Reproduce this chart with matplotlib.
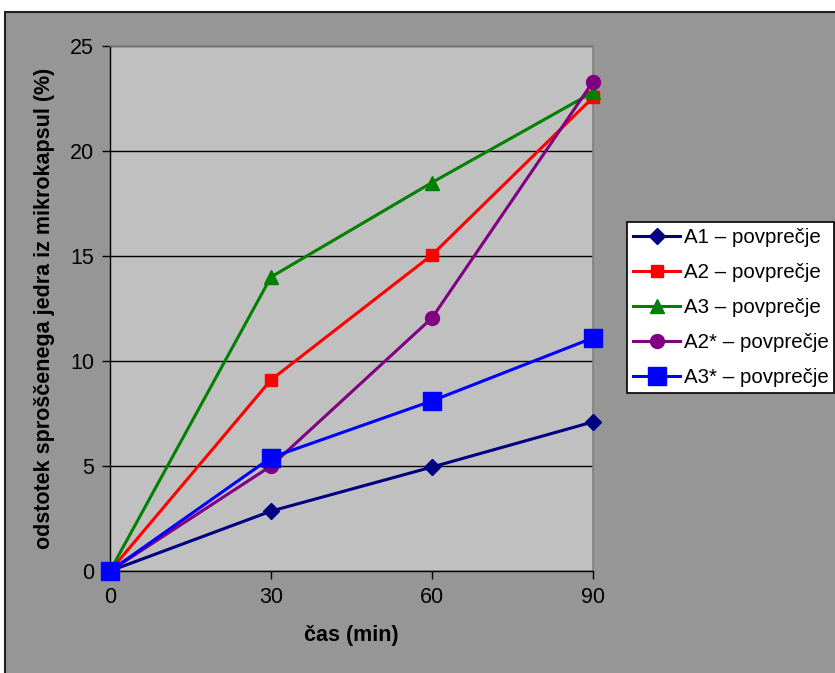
import matplotlib.pyplot as plt
from matplotlib.patches import Rectangle

plt.rcParams['font.family'] = ['Liberation Sans', 'DejaVu Sans']

# release time points (min)
cas = [0, 30, 60, 90]

# average released core fraction (%) per sample
a1 = [0, 2.85, 4.95, 7.1]
a2 = [0, 9.1, 15.05, 22.55]
a3 = [0, 14.0, 18.5, 22.8]
a2z = [0, 5.0, 12.05, 23.3]
a3z = [0, 5.4, 8.1, 11.1]

labels = ['A1 – povprečje', 'A2 – povprečje', 'A3 – povprečje',
          'A2* – povprečje', 'A3* – povprečje']

fig = plt.figure(figsize=(8.35, 6.73), dpi=100)
fig.patch.set_facecolor('white')

# gray chart area with dark frame
frame = Rectangle((5 / 835, -0.01), 1.0, (673 - 12) / 673 + 0.01,
                  transform=fig.transFigure, facecolor='#969696',
                  edgecolor='#202020', linewidth=1.5, zorder=-10)
fig.patches.append(frame)

ax = fig.add_axes([110 / 835, 1 - 571 / 673, 483 / 835, 525 / 673])
ax.set_facecolor('#C0C0C0')

styles = [
    (a1, '#000080', 'D', 8.5),
    (a2, '#FF0000', 's', 8.5),
    (a3, '#008000', '^', 10),
    (a2z, '#800080', 'o', 10),
    (a3z, '#0000FF', 's', 12.5),
]
for (vals, col, mk, ms), lab in zip(styles, labels):
    ax.plot(cas, vals, color=col, marker=mk, markersize=ms, linewidth=2.2,
            label=lab, clip_on=False, zorder=3)

ax.set_xlim(0, 90)
ax.set_ylim(0, 25)
ax.set_xticks(cas)
ax.set_yticks(range(0, 26, 5))
ax.yaxis.grid(True, color='black', linewidth=1)
ax.set_axisbelow(True)
ax.tick_params(labelsize=15.5, length=5.5, width=1, direction='out', pad=6)

for side in ['top', 'right']:
    ax.spines[side].set_color('#808080')
    ax.spines[side].set_linewidth(1.2)
for side in ['left', 'bottom']:
    ax.spines[side].set_color('black')
    ax.spines[side].set_linewidth(1)

ax.set_xlabel('čas (min)', fontsize=15.5, fontweight='bold', labelpad=12)
ax.set_ylabel('odstotek sproščenega jedra iz mikrokapsul (%)', fontsize=15.5,
              fontweight='bold', labelpad=11)

leg = fig.legend(loc='upper left', bbox_to_anchor=(627 / 835, 1 - 222 / 673),
                 fontsize=14.8, frameon=True, fancybox=False, framealpha=1,
                 edgecolor='black', facecolor='white', handlelength=2.3,
                 handletextpad=0.15, labelspacing=0.78, borderpad=0.3,
                 borderaxespad=0)
leg.get_frame().set_linewidth(1.2)

fig.savefig('out.png', dpi=100)
